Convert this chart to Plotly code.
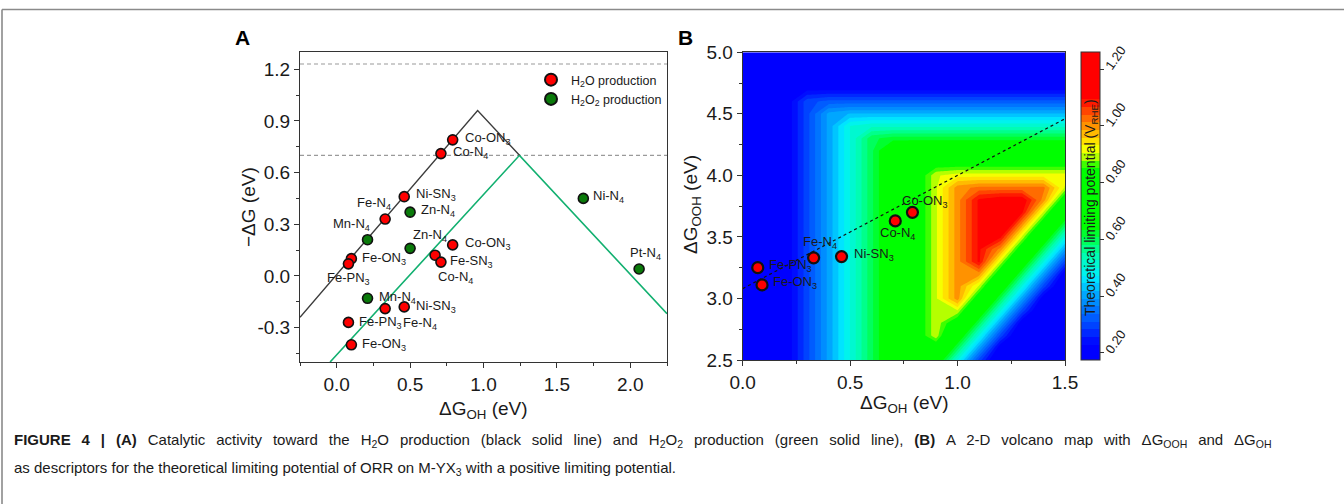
import plotly.graph_objects as go

# ---------------- Panel A data ----------------
h2o_goh = [0.79, 0.71, 0.46, 0.33, 0.10, 0.08, 0.79, 0.67, 0.71, 0.33, 0.46, 0.08, 0.10]
h2o_mdg = [0.79, 0.71, 0.46, 0.33, 0.10, 0.07, 0.18, 0.12, 0.08, -0.19, -0.18, -0.27, -0.40]
h2o_labels = ["Co-ON<sub>3</sub>", "Co-N<sub>4</sub>", "Ni-SN<sub>3</sub>", "Fe-N<sub>4</sub>",
              "Fe-ON<sub>3</sub>", "Fe-PN<sub>3</sub>", "Co-ON<sub>3</sub>", "Fe-SN<sub>3</sub>",
              "Co-N<sub>4</sub>", "Fe-N<sub>4</sub>", "Ni-SN<sub>3</sub>", "Fe-PN<sub>3</sub>",
              "Fe-ON<sub>3</sub>"]
h2o2_goh = [0.50, 0.21, 0.50, 0.21, 1.68, 2.06]
h2o2_mdg = [0.37, 0.21, 0.16, -0.13, 0.45, 0.04]
h2o2_labels = ["Zn-N<sub>4</sub>", "Mn-N<sub>4</sub>", "Zn-N<sub>4</sub>", "Mn-N<sub>4</sub>",
               "Ni-N<sub>4</sub>", "Pt-N<sub>4</sub>"]

h2o_line_goh = [-0.25, 0.96, 1.245]
h2o_line_mdg = [-0.24, 0.96, 0.70]
h2o2_line_goh = [-0.045, 1.245, 2.25]
h2o2_line_mdg = [-0.50, 0.70, -0.22]
ref_levels = [1.23, 0.70]

a_xticks = [0.0, 0.5, 1.0, 1.5, 2.0]
a_xticktext = ["0.0", "0.5", "1.0", "1.5", "2.0"]
a_yticks = [-0.3, 0.0, 0.3, 0.6, 0.9, 1.2]
a_yticktext = ["-0.3", "0.0", "0.3", "0.6", "0.9", "1.2"]

# ---------------- Panel B data ----------------
b_goh = [0.07, 0.09, 0.33, 0.46, 0.71, 0.79]
b_gooh = [3.25, 3.11, 3.33, 3.34, 3.63, 3.70]
b_labels = ["Fe-PN<sub>3</sub>", "Fe-ON<sub>3</sub>", "Fe-N<sub>4</sub>", "Ni-SN<sub>3</sub>",
            "Co-N<sub>4</sub>", "Co-ON<sub>3</sub>"]
scaling_goh = [0.0, 1.5]
scaling_gooh = [3.08, 4.46]

map_goh = [0.0, 0.1, 0.2, 0.3, 0.4, 0.5, 0.6, 0.7, 0.8, 0.9, 1.0, 1.1, 1.2, 1.3, 1.4, 1.5]
map_gooh = [2.5, 2.6, 2.7, 2.8, 2.9, 3.0, 3.1, 3.2, 3.3, 3.4, 3.5, 3.6, 3.7, 3.8, 3.9,
            4.0, 4.1, 4.2, 4.3, 4.4, 4.5, 4.6, 4.7, 4.8, 4.9, 5.0]
map_ul = [
    [.15, .15, .2, .3, .4, .5, .6, .7, .8, .7, .5, .3, .15, .15, .15, .15],
    [.15, .15, .2, .3, .4, .5, .6, .7, .8, .8, .6, .4, .2, .15, .15, .15],
    [.15, .15, .2, .3, .4, .5, .6, .7, .8, .9, .7, .5, .3, .15, .15, .15],
    [.15, .15, .2, .3, .4, .5, .6, .7, .8, .9, .8, .6, .4, .2, .15, .15],
    [.15, .15, .2, .3, .4, .5, .6, .7, .8, .9, .9, .7, .5, .3, .15, .15],
    [.15, .15, .2, .3, .4, .5, .6, .7, .8, .9, 1.0, .8, .6, .4, .2, .15],
    [.15, .15, .2, .3, .4, .5, .6, .7, .8, .9, 1.0, .9, .7, .5, .3, .15],
    [.15, .15, .2, .3, .4, .5, .6, .7, .8, .9, 1.0, 1.0, .8, .6, .4, .2],
    [.15, .15, .2, .3, .4, .5, .6, .7, .8, .9, 1.0, 1.1, .9, .7, .5, .3],
    [.15, .15, .2, .3, .4, .5, .6, .7, .8, .9, 1.0, 1.1, 1.0, .8, .6, .4],
    [.15, .15, .2, .3, .4, .5, .6, .7, .8, .9, 1.0, 1.1, 1.1, .9, .7, .5],
    [.15, .15, .2, .3, .4, .5, .6, .7, .8, .9, 1.0, 1.1, 1.2, 1.0, .8, .6],
    [.15, .15, .2, .3, .4, .5, .6, .7, .8, .9, 1.0, 1.1, 1.2, 1.1, .9, .7],
    [.15, .15, .2, .3, .4, .5, .6, .7, .8, .9, 1.0, 1.1, 1.12, 1.12, 1.0, .8],
    [.15, .15, .2, .3, .4, .5, .6, .7, .8, .9, 1.0, 1.02, 1.02, 1.02, 1.02, .9],
    [.15, .15, .2, .3, .4, .5, .6, .7, .8, .9, .92, .92, .92, .92, .92, .92],
    [.15, .15, .2, .3, .4, .5, .6, .7, .8, .82, .82, .82, .82, .82, .82, .82],
    [.15, .15, .2, .3, .4, .5, .6, .7, .72, .72, .72, .72, .72, .72, .72, .72],
    [.15, .15, .2, .3, .4, .5, .6, .62, .62, .62, .62, .62, .62, .62, .62, .62],
    [.15, .15, .2, .3, .4, .5, .52, .52, .52, .52, .52, .52, .52, .52, .52, .52],
    [.15, .15, .2, .3, .4, .42, .42, .42, .42, .42, .42, .42, .42, .42, .42, .42],
    [.15, .15, .2, .3, .32, .32, .32, .32, .32, .32, .32, .32, .32, .32, .32, .32],
    [.15, .15, .2, .22, .22, .22, .22, .22, .22, .22, .22, .22, .22, .22, .22, .22],
    [.15, .15, .15, .15, .15, .15, .15, .15, .15, .15, .15, .15, .15, .15, .15, .15],
    [.15, .15, .15, .15, .15, .15, .15, .15, .15, .15, .15, .15, .15, .15, .15, .15],
    [.15, .15, .15, .15, .15, .15, .15, .15, .15, .15, .15, .15, .15, .15, .15, .15],
]
b_xticks = [0.0, 0.5, 1.0, 1.5]
b_xticktext = ["0.0", "0.5", "1.0", "1.5"]
b_yticks = [2.5, 3.0, 3.5, 4.0, 4.5, 5.0]
b_yticktext = ["2.5", "3.0", "3.5", "4.0", "4.5", "5.0"]
cb_ticks = [0.2, 0.4, 0.6, 0.8, 1.0, 1.2]
cb_ticktext = ["0.20", "0.40", "0.60", "0.80", "1.00", "1.20"]

caption_line1 = ("<b>FIGURE 4 | (A)</b> Catalytic activity toward the H<sub>2</sub>O production "
                 "(black solid line) and H<sub>2</sub>O<sub>2</sub> production (green solid line), "
                 "<b>(B)</b> A 2-D volcano map with ΔG<sub>OOH</sub> and ΔG<sub>OH</sub>")
caption_line2 = ("as descriptors for the theoretical limiting potential of ORR on M-YX<sub>3</sub> "
                 "with a positive limiting potential.")

# ---------------- styles / placement ----------------
W, H = 1344, 504
FONT = "Liberation Sans, Arial, Helvetica, sans-serif"
TXT = "#1a1a1a"
RED = "#ff0000"
GREEN = "#0a7a0a"
LINE_GREEN = "#12b070"

h2o_label_pos = [("left", 10, 1), ("left", 10, 1), ("left", 10, 2), ("center", -11, 16),
                 ("left", 9, 0), ("center", 0, -15), ("left", 10, 1), ("left", 13, -6),
                 ("center", 15, -15), ("left", 16, -15), ("left", 10, 0), ("left", 9, 0),
                 ("left", 9, 0)]
h2o2_label_pos = [("left", 9, 2), ("center", -16, 15), ("center", 20, 13), ("left", 9, 1),
                  ("left", 8, 2), ("center", 6, 16)]
b_label_pos = [("left", 9, 2), ("left", 9, 2), ("center", 6, 15), ("left", 10, 2),
               ("center", 2, -13), ("center", 13, 11)]


def px(v):
    return v / W


def py(v):
    return 1 - v / H


fig = go.Figure()

# Panel A lines
fig.add_trace(go.Scatter(x=h2o2_line_goh, y=h2o2_line_mdg, mode="lines",
                         line=dict(color=LINE_GREEN, width=1.6), showlegend=False,
                         hoverinfo="skip", xaxis="x", yaxis="y"))
fig.add_trace(go.Scatter(x=h2o_line_goh, y=h2o_line_mdg, mode="lines",
                         line=dict(color="#3c3c3c", width=1.4), showlegend=False,
                         hoverinfo="skip", xaxis="x", yaxis="y"))
# Panel A points
fig.add_trace(go.Scatter(x=h2o_goh, y=h2o_mdg, mode="markers", name="H<sub>2</sub>O production",
                         marker=dict(color=RED, size=10, line=dict(color="#111", width=1.6)),
                         xaxis="x", yaxis="y"))
fig.add_trace(go.Scatter(x=h2o2_goh, y=h2o2_mdg, mode="markers",
                         name="H<sub>2</sub>O<sub>2</sub> production",
                         marker=dict(color=GREEN, size=10, line=dict(color="#111", width=1.6)),
                         xaxis="x", yaxis="y"))

# Panel B map
colorscale = [
    [0.0, "rgb(0,0,255)"], [0.0507, "rgb(0,0,255)"], [0.1152, "rgb(0,70,255)"],
    [0.2074, "rgb(0,160,255)"], [0.2719, "rgb(0,240,255)"], [0.3456, "rgb(0,255,170)"],
    [0.4378, "rgb(0,255,0)"], [0.6267, "rgb(0,255,0)"], [0.6544, "rgb(160,255,0)"],
    [0.691, "rgb(255,255,0)"], [0.7235, "rgb(255,210,0)"], [0.760, "rgb(255,150,0)"],
    [0.806, "rgb(255,80,0)"], [0.8525, "rgb(255,0,0)"], [1.0, "rgb(255,0,0)"],
]
fig.add_trace(go.Contour(
    x=map_goh, y=map_gooh, z=map_ul, xaxis="x2", yaxis="y2",
    colorscale=colorscale, zmin=0.175, zmax=1.26, zauto=False,
    contours=dict(coloring="fill", showlines=False, start=0.175, end=1.26, size=0.027),
    line=dict(width=0, smoothing=0), hoverinfo="skip", showlegend=False,
    colorbar=dict(x=px(1081), xanchor="left", xpad=0, y=py(206), yanchor="middle", ypad=0,
                  len=308 / H, lenmode="fraction", thickness=19, thicknessmode="pixels",
                  outlinewidth=1, outlinecolor="#333", tickvals=cb_ticks, ticktext=cb_ticktext,
                  ticks="outside", ticklen=4, tickcolor="#333", tickangle=-55,
                  tickfont=dict(family=FONT, size=13, color=TXT)),
))
fig.add_trace(go.Scatter(x=scaling_goh, y=scaling_gooh, mode="lines",
                         line=dict(color="#111", width=1.2, dash="dot"), showlegend=False,
                         hoverinfo="skip", xaxis="x2", yaxis="y2"))
fig.add_trace(go.Scatter(x=b_goh, y=b_gooh, mode="markers", showlegend=False,
                         marker=dict(color=RED, size=11, line=dict(color="#111", width=2.2)),
                         xaxis="x2", yaxis="y2"))

annotations = []
for x, y, t, (anc, dx, dy) in zip(h2o_goh, h2o_mdg, h2o_labels, h2o_label_pos):
    annotations.append(dict(x=x, y=y, xref="x", yref="y", text=t, showarrow=False,
                            xanchor=anc, yanchor="middle", xshift=dx, yshift=dy,
                            font=dict(family=FONT, size=13, color=TXT)))
for x, y, t, (anc, dx, dy) in zip(h2o2_goh, h2o2_mdg, h2o2_labels, h2o2_label_pos):
    annotations.append(dict(x=x, y=y, xref="x", yref="y", text=t, showarrow=False,
                            xanchor=anc, yanchor="middle", xshift=dx, yshift=dy,
                            font=dict(family=FONT, size=13, color=TXT)))
for x, y, t, (anc, dx, dy) in zip(b_goh, b_gooh, b_labels, b_label_pos):
    annotations.append(dict(x=x, y=y, xref="x2", yref="y2", text=t, showarrow=False,
                            xanchor=anc, yanchor="middle", xshift=dx, yshift=dy,
                            font=dict(family=FONT, size=13, color=TXT)))


def paper_text(x, y, text, size, angle=0, anchor="center", color=TXT):
    return dict(x=px(x), y=py(y), xref="paper", yref="paper", text=text, showarrow=False,
                xanchor=anchor, yanchor="middle", textangle=angle,
                font=dict(family=FONT, size=size, color=color))


# justified first caption line: widen the word gaps
caption_line1_just = caption_line1.replace(" ", " \u2005\u2009")

annotations += [
    paper_text(242, 38, "<b>A</b>", 21, color="#000"),
    paper_text(685, 38, "<b>B</b>", 21, color="#000"),
    paper_text(483, 410, "ΔG<sub>OH</sub> (eV)", 19),
    paper_text(248, 207, "−ΔG (eV)", 19, angle=-90),
    paper_text(904, 404, "ΔG<sub>OH</sub> (eV)", 19),
    paper_text(692, 204, "ΔG<sub>OOH</sub> (eV)", 19, angle=-90),
    paper_text(1091, 208, "Theoretical limiting potential (V<sub>RHE</sub>)", 14, angle=-90),
    paper_text(12, 440, caption_line1_just, 15, anchor="left"),
    paper_text(12, 468, caption_line2, 15, anchor="left"),
]

shapes = []
for lv in ref_levels:
    shapes.append(dict(type="line", xref="x domain", yref="y", x0=0, x1=1, y0=lv, y1=lv,
                       line=dict(color="#9a9a9a", width=1.1, dash="4px,3px"), layer="below"))
# figure frame
shapes += [
    dict(type="line", xref="paper", yref="paper", x0=px(2), x1=1, y0=py(9.5), y1=py(9.5),
         line=dict(color="#8a8a8a", width=1.6)),
    dict(type="line", xref="paper", yref="paper", x0=px(2), x1=px(2), y0=0, y1=py(9.5),
         line=dict(color="#8a8a8a", width=1.6)),
]

axis_common = dict(showline=True, linecolor="#333", linewidth=1.1, mirror=True, ticks="outside",
                   ticklen=5, tickcolor="#333", showgrid=False, zeroline=False, automargin=False,
                   tickfont=dict(family=FONT, size=19, color=TXT))

fig.update_layout(
    width=W, height=H, autosize=False,
    margin=dict(l=0, r=0, t=0, b=0, pad=0, autoexpand=False),
    paper_bgcolor="white", plot_bgcolor="white",
    font=dict(family=FONT, color=TXT),
    xaxis=dict(domain=[px(300), px(667)], range=[-0.25, 2.25], anchor="y",
               tickmode="array", tickvals=a_xticks, ticktext=a_xticktext,
               minor=dict(tickmode="linear", tick0=0.25, dtick=0.5, ticklen=3, ticks="outside",
                          tickcolor="#333"), **axis_common),
    yaxis=dict(domain=[py(362), py(52)], range=[-0.5, 1.3], anchor="x",
               tickmode="array", tickvals=a_yticks, ticktext=a_yticktext,
               minor=dict(tickmode="linear", tick0=0.15, dtick=0.3, ticklen=3, ticks="outside",
                          tickcolor="#333"), **axis_common),
    xaxis2=dict(domain=[px(742.7), px(1065)], range=[0, 1.5], anchor="y2",
                tickmode="array", tickvals=b_xticks, ticktext=b_xticktext,
                minor=dict(tickmode="linear", tick0=0.25, dtick=0.5, ticklen=3, ticks="outside",
                           tickcolor="#333"), **axis_common),
    yaxis2=dict(domain=[py(360), py(52.3)], range=[2.5, 5.0], anchor="x2",
                tickmode="array", tickvals=b_yticks, ticktext=b_yticktext,
                minor=dict(tickmode="linear", tick0=2.75, dtick=0.5, ticklen=3, ticks="outside",
                           tickcolor="#333"), **axis_common),
    legend=dict(x=px(531), y=py(65), xanchor="left", yanchor="top", bgcolor="rgba(0,0,0,0)",
                font=dict(family=FONT, size=12.5, color=TXT), tracegroupgap=0,
                itemsizing="constant"),
    annotations=annotations,
    shapes=shapes,
)

fig.write_html("out.html")
